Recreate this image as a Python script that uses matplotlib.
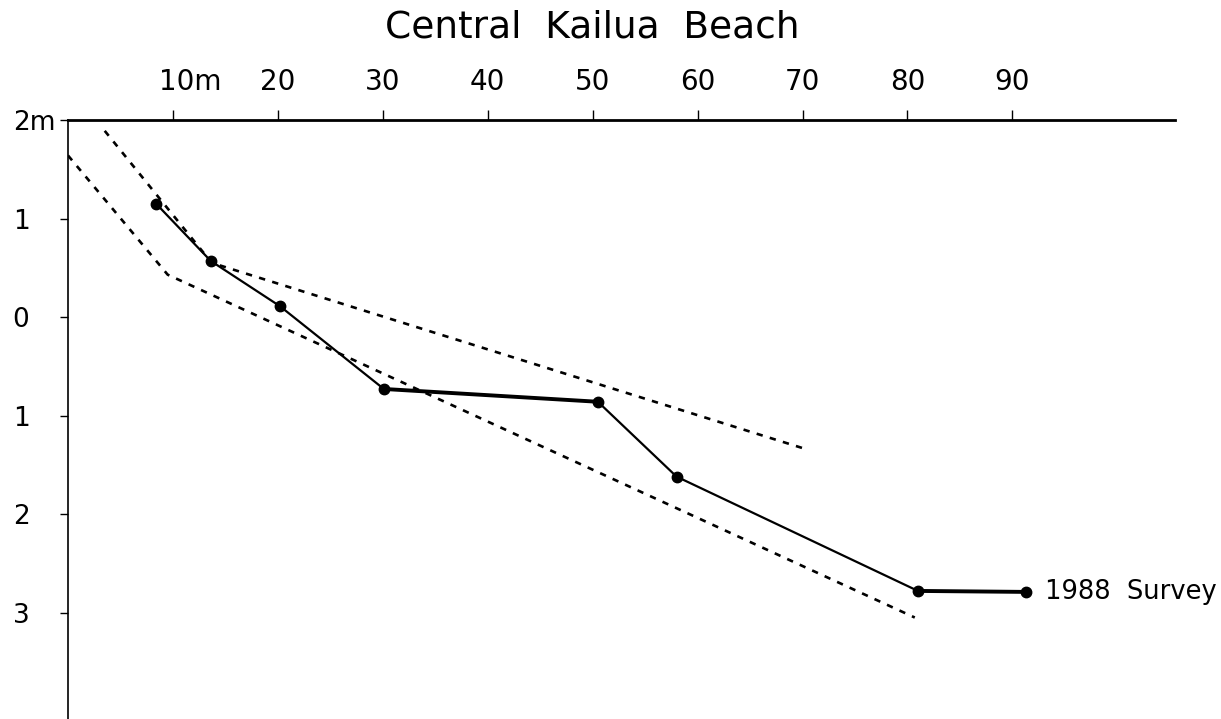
import matplotlib
matplotlib.use("Agg")
import matplotlib.pyplot as plt
from matplotlib.transforms import ScaledTranslation

# ---- data (distance in m, elevation in m) ----
survey_x = [8.4, 13.6, 20.2, 30.1, 50.5, 58.0, 81.0, 91.3]
survey_y = [1.15, 0.57, 0.11, -0.73, -0.86, -1.62, -2.78, -2.79]
thick_segments = [(3, 4), (6, 7)]

upper_x = [3.5, 13.7, 70.3]
upper_y = [1.89, 0.55, -1.34]

lower_x = [0.0, 9.5, 80.7]
lower_y = [1.64, 0.43, -3.05]

x_ticks = [10, 20, 30, 40, 50, 60, 70, 80, 90]
x_ticklabels = ["10m", "20", "30", "40", "50", "60", "70", "80", "90"]
y_ticks = [2, 1, 0, -1, -2, -3]
y_ticklabels = ["2m", "1", "0", "1", "2", "3"]

title = "Central  Kailua  Beach"
series_label = "1988  Survey"

plt.rcParams["font.family"] = ["DejaVu Sans"]

W, H = 1221, 719
fig = plt.figure(figsize=(W / 100, H / 100), dpi=100)
ax = fig.add_axes([68 / W, 0, 1107 / W, 599 / H])
ax.set_xlim(0, 105.5)
ax.set_ylim(-4.08, 2)

# dashed envelope lines
dash = (0, (2.4, 2.8))
ax.plot(upper_x, upper_y, color="black", lw=1.9, linestyle=dash)
ax.plot(lower_x, lower_y, color="black", lw=1.9, linestyle=dash)

# survey profile
ax.plot(survey_x, survey_y, color="black", lw=1.6, marker="o", ms=7.5,
        solid_capstyle="round")
for i, j in thick_segments:
    ax.plot([survey_x[i], survey_x[j]], [survey_y[i], survey_y[j]],
            color="black", lw=2.8)

ax.annotate(series_label, xy=(survey_x[-1], survey_y[-1]),
            xytext=(14, 0), textcoords="offset points",
            va="center", ha="left", fontsize=18.5)

# spines
for s in ("right", "bottom"):
    ax.spines[s].set_visible(False)
ax.spines["top"].set_linewidth(2.0)
ax.spines["left"].set_linewidth(1.2)

ax.xaxis.tick_top()
ax.set_xticks(x_ticks)
ax.set_xticklabels(x_ticklabels, fontsize=20)
ax.tick_params(axis="x", direction="out", length=7, width=1.0, pad=10)

ax.set_yticks(y_ticks)
ax.set_yticklabels(y_ticklabels, fontsize=19, ha="left")
ax.tick_params(axis="y", direction="out", length=5.8, width=1.0, pad=34)

fig.text(592 / W, 1 - 28 / H, title, fontsize=27, ha="center", va="center")

# shift "10m" so that "10" sits over its tick
lab = ax.xaxis.get_major_ticks()[0].label2
lab.set_transform(lab.get_transform() + ScaledTranslation(0.17, 0, fig.dpi_scale_trans))

fig.savefig("out.png", dpi=100, facecolor="white")
